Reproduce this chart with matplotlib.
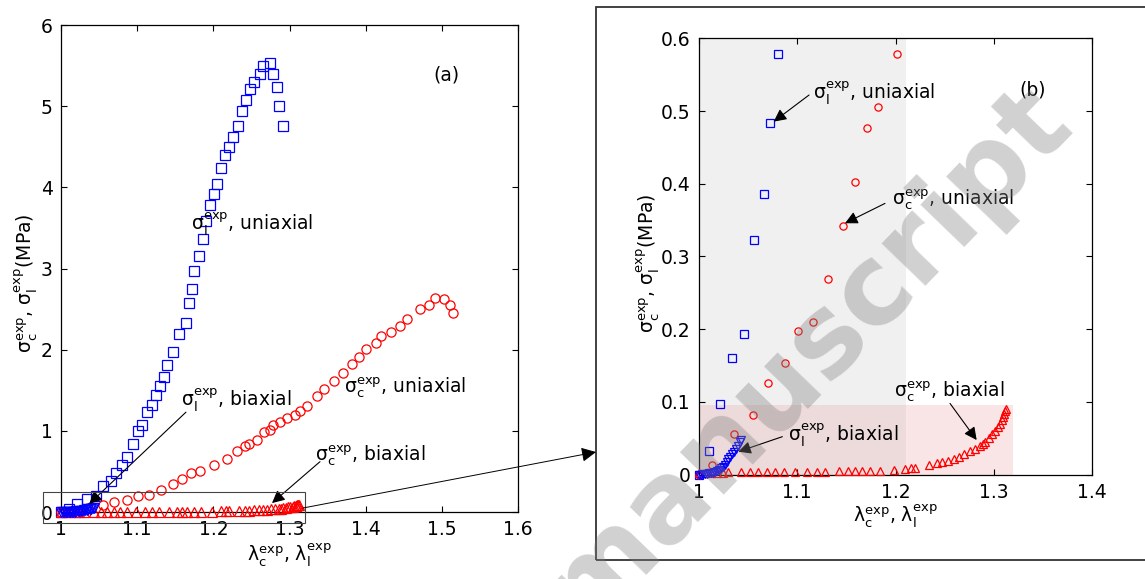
import matplotlib
matplotlib.use('Agg')
import matplotlib.pyplot as plt
from matplotlib.patches import Rectangle, FancyArrowPatch
import numpy as np

plt.rcParams['font.family'] = ['DejaVu Sans']
plt.rcParams['mathtext.default'] = 'regular'
FS = 13.5

# sigma_l, uniaxial (blue squares)
lam_l_uni = [1.000, 1.0105, 1.0211, 1.0336, 1.0461, 1.0557, 1.0662, 1.0723, 1.0807,
             1.0863, 1.0949, 1.1015, 1.1059, 1.1129, 1.1199, 1.1243, 1.1304, 1.1356,
             1.1392, 1.1474, 1.1553, 1.1637, 1.1680, 1.1716, 1.1750, 1.1808, 1.1860,
             1.1904, 1.1952, 1.2005, 1.2048, 1.2105, 1.2157, 1.2210, 1.2262, 1.2324,
             1.2380, 1.2429, 1.2481, 1.2538, 1.2609, 1.2648, 1.2744, 1.2783, 1.2840,
             1.2866, 1.2915]
sig_l_uni = [0.000, 0.033, 0.097, 0.161, 0.193, 0.322, 0.386, 0.484, 0.579,
             0.681, 0.837, 0.998, 1.068, 1.232, 1.318, 1.441, 1.552, 1.666,
             1.810, 1.974, 2.192, 2.324, 2.578, 2.743, 2.972, 3.156, 3.362,
             3.587, 3.777, 3.916, 4.036, 4.236, 4.397, 4.499, 4.615, 4.750,
             4.942, 5.074, 5.206, 5.299, 5.394, 5.496, 5.533, 5.394, 5.238,
             5.004, 4.750]

# sigma_c, uniaxial (red circles)
lam_c_uni = [1.000, 1.0136, 1.0356, 1.0546, 1.0699, 1.0872, 1.1008, 1.1157, 1.1313,
             1.1466, 1.1584, 1.1707, 1.1822, 1.2015, 1.2175, 1.2306, 1.2416, 1.2472,
             1.2569, 1.2665, 1.2744, 1.2787, 1.2875, 1.2963, 1.3072, 1.3138, 1.3225,
             1.3357, 1.3457, 1.3588, 1.3702, 1.3820, 1.3912, 1.4008, 1.4132, 1.4197,
             1.4328, 1.4451, 1.4539, 1.4713, 1.4835, 1.4910, 1.5032, 1.5111, 1.5150]
sig_c_uni = [0.000, 0.014, 0.0555, 0.082, 0.126, 0.154, 0.197, 0.2095, 0.269,
             0.342, 0.4025, 0.477, 0.505, 0.579, 0.653, 0.755, 0.813, 0.837,
             0.887, 0.981, 1.010, 1.071, 1.112, 1.154, 1.200, 1.245, 1.300,
             1.429, 1.515, 1.613, 1.712, 1.819, 1.913, 2.007, 2.078, 2.167,
             2.213, 2.291, 2.373, 2.504, 2.553, 2.635, 2.619, 2.546, 2.454]

# sigma_l, biaxial (blue down triangles)
lam_l_bi = [1.000, 1.002, 1.004, 1.006, 1.008, 1.010, 1.012, 1.014, 1.016, 1.018,
            1.020, 1.022, 1.024, 1.026, 1.028, 1.030, 1.032, 1.034, 1.036, 1.038,
            1.040, 1.042, 1.043]
sig_l_bi = [0.000, 0.000, 0.001, 0.001, 0.001, 0.002, 0.002, 0.003, 0.004, 0.005,
            0.007, 0.009, 0.011, 0.014, 0.018, 0.021, 0.024, 0.028, 0.031, 0.036,
            0.040, 0.045, 0.048]

# sigma_c, biaxial (red up triangles)
lam_c_bi = [1.000, 1.006, 1.012, 1.018, 1.024, 1.030, 1.043, 1.052, 1.060, 1.069,
            1.077, 1.086, 1.098, 1.110, 1.120, 1.128, 1.142, 1.152, 1.159, 1.166,
            1.174, 1.184, 1.198, 1.210, 1.216, 1.220, 1.234, 1.242, 1.247, 1.253,
            1.260, 1.265, 1.270, 1.276, 1.281, 1.286, 1.289, 1.291, 1.295, 1.298,
            1.301, 1.304, 1.306, 1.308, 1.309, 1.310, 1.311, 1.312]
sig_c_bi = [0.002, 0.002, 0.003, 0.003, 0.003, 0.004, 0.004, 0.004, 0.004, 0.004,
            0.004, 0.004, 0.004, 0.004, 0.004, 0.004, 0.005, 0.005, 0.005, 0.005,
            0.005, 0.005, 0.006, 0.008, 0.009, 0.009, 0.013, 0.016, 0.018, 0.019,
            0.022, 0.025, 0.028, 0.032, 0.035, 0.040, 0.042, 0.045, 0.050, 0.056,
            0.060, 0.066, 0.070, 0.075, 0.079, 0.083, 0.087, 0.090]

lab_l_uni = r'$\sigma_l^{exp}$, uniaxial'
lab_c_uni = r'$\sigma_c^{exp}$, uniaxial'
lab_l_bi = r'$\sigma_l^{exp}$, biaxial'
lab_c_bi = r'$\sigma_c^{exp}$, biaxial'
ylab = r'$\sigma_c^{exp}$, $\sigma_l^{exp}$(MPa)'
xlab = r'$\lambda_c^{exp}$, $\lambda_l^{exp}$'

fig = plt.figure(figsize=(11.45, 5.79), dpi=100)


def draw_series(ax, xlim, ylim, ms):
    series = [(lam_l_uni, sig_l_uni, 's', 'b', ms),
              (lam_c_uni, sig_c_uni, 'o', 'r', ms),
              (lam_c_bi, sig_c_bi, '^', 'r', ms),
              (lam_l_bi, sig_l_bi, 'v', 'b', ms)]
    for xs, ys, m, c, s in series:
        xs = np.array(xs)
        ys = np.array(ys)
        keep = (xs >= xlim[0]) & (xs <= xlim[1]) & (ys >= ylim[0]) & (ys <= ylim[1])
        ax.plot(xs[keep], ys[keep], m, mfc='none', mec=c, ms=s, mew=0.9,
                clip_on=False, zorder=3)


def style(ax):
    ax.tick_params(direction='in', top=True, right=True, length=4, width=0.8,
                   labelsize=FS, pad=6)
    for sp in ax.spines.values():
        sp.set_linewidth(0.9)


def arrow(ax, start, tip):
    ax.annotate('', xy=tip, xytext=start,
                arrowprops=dict(arrowstyle='-|>', color='k', lw=0.8,
                                mutation_scale=19, shrinkA=0, shrinkB=0))


# ---- panel (a)
ax1 = fig.add_axes([0.0533, 0.1157, 0.3991, 0.8411])
ax1.set_xlim(1, 1.6)
ax1.set_ylim(0, 6)
draw_series(ax1, (0.9, 1.7), (-1, 7), 6.6)
ax1.set_xticks([1, 1.1, 1.2, 1.3, 1.4, 1.5, 1.6])
ax1.set_xticklabels(['1', '1.1', '1.2', '1.3', '1.4', '1.5', '1.6'])
ax1.set_yticks(range(7))
style(ax1)
ax1.add_patch(Rectangle((0.976, -0.135), 0.344, 0.381, fill=False, ec='#444',
                        lw=0.8, clip_on=False, zorder=4))
ax1.text(1.17, 3.55, lab_l_uni, fontsize=FS, va='center')
ax1.text(1.371, 1.53, lab_c_uni, fontsize=FS, va='center')
ax1.text(1.158, 1.38, lab_l_bi, fontsize=FS, va='center')
arrow(ax1, (1.164, 1.23), (1.037, 0.10))
ax1.text(1.3335, 0.70, lab_c_bi, fontsize=FS, va='center')
arrow(ax1, (1.340, 0.62), (1.277, 0.11))
ax1.text(1.506, 5.38, '(a)', fontsize=FS, ha='center', va='center')
ax1.set_ylabel(ylab, fontsize=FS)
ax1.yaxis.set_label_coords(-0.045, 0.47)
ax1.set_xlabel(xlab, fontsize=FS)
ax1.xaxis.set_label_coords(0.5, -0.06)

# ---- panel (b)
ax2 = fig.add_axes([0.6105, 0.1801, 0.3432, 0.7538])
ax2.set_xlim(1, 1.4)
ax2.set_ylim(0, 0.6)
ax2.add_patch(Rectangle((1.0, 0.0), 0.211, 0.6, fc='#f0f0f0', ec='none', zorder=0))
ax2.add_patch(Rectangle((1.0, 0.0), 0.320, 0.096, fc=(0.9, 0.55, 0.55), alpha=0.22,
                        ec='none', zorder=1))
draw_series(ax2, (1.0, 1.4), (0.0, 0.6), 5.2)
ax2.set_xticks([1, 1.1, 1.2, 1.3, 1.4])
ax2.set_xticklabels(['1', '1.1', '1.2', '1.3', '1.4'])
ax2.set_yticks([0, 0.1, 0.2, 0.3, 0.4, 0.5, 0.6])
ax2.set_yticklabels(['0', '0.1', '0.2', '0.3', '0.4', '0.5', '0.6'])
style(ax2)
ax2.text(1.1163, 0.5244, lab_l_uni, fontsize=FS, va='center')
arrow(ax2, (1.112, 0.522), (1.076, 0.4854))
ax2.text(1.1961, 0.3777, lab_c_uni, fontsize=FS, va='center')
arrow(ax2, (1.1893, 0.373), (1.1486, 0.3457))
ax2.text(1.0909, 0.0546, lab_l_bi, fontsize=FS, va='center')
arrow(ax2, (1.0848, 0.0523), (1.040, 0.0317))
ax2.text(1.1988, 0.114, lab_c_bi, fontsize=FS, va='center')
arrow(ax2, (1.2555, 0.098), (1.2826, 0.0477))
ax2.text(1.3396, 0.529, '(b)', fontsize=FS, ha='center', va='center')
ax2.set_ylabel(ylab, fontsize=FS)
ax2.yaxis.set_label_coords(-0.094, 0.485)
ax2.set_xlabel(xlab, fontsize=FS)
ax2.xaxis.set_label_coords(0.5, -0.063)

# frame around panel (b) and the zoom arrow
fig.add_artist(Rectangle((0.5205, 0.0328), 0.55, 0.955, transform=fig.transFigure,
                         fill=False, ec='#333333', lw=1.3))
fig.add_artist(FancyArrowPatch((0.2646, 0.1226), (0.5205, 0.2193),
                               transform=fig.transFigure, arrowstyle='-|>',
                               mutation_scale=22, lw=0.7, color='k',
                               shrinkA=0, shrinkB=0))

# watermark
fig.text(0.705, 0.385, 'manuscript', rotation=46, fontsize=80, fontweight='bold',
         color='gray', alpha=0.36, ha='center', va='center', rotation_mode='anchor',
         zorder=10)

fig.savefig('out.png', dpi=100)
